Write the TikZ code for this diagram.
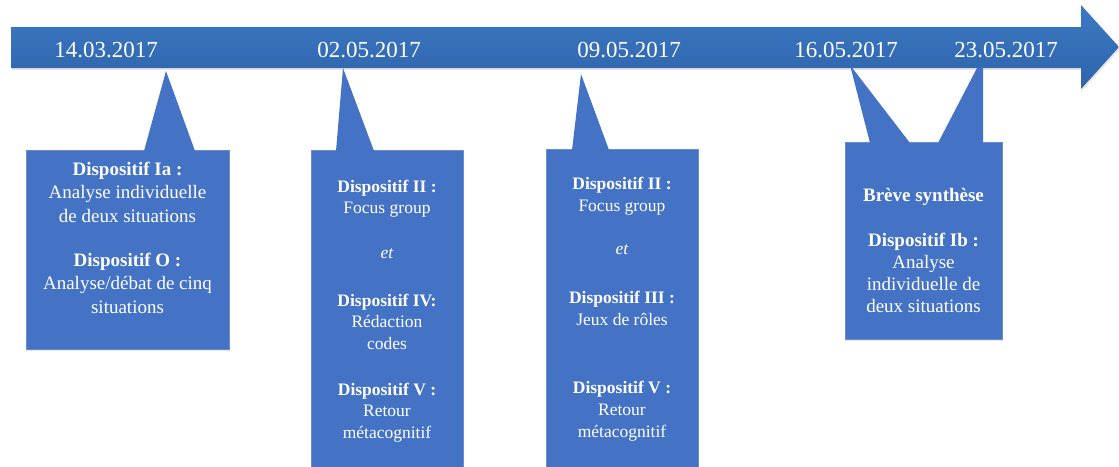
\documentclass[tikz,border=0pt]{standalone}
\usepackage{fontspec}
\setmainfont{Liberation Serif}
\usetikzlibrary{shadows}
\definecolor{boxblue}{HTML}{4472C4}
\definecolor{arrowtop}{HTML}{3C79C4}
\definecolor{arrowbot}{HTML}{2E64AA}
\begin{document}
\begin{tikzpicture}[x=1pt,y=-1pt,
    date/.style={text=white,font=\fontsize{23}{27}\selectfont,anchor=base,inner sep=0pt},
    callout/.style={fill=boxblue,draw=boxblue!80!white,line width=0.6pt,anchor=north west,
      drop shadow={shadow xshift=1pt,shadow yshift=-2pt,opacity=0.2}},
    tail/.style={fill=boxblue},
    info/.style={text=white,align=center,anchor=base,inner sep=0pt}]
  \useasboundingbox (0,0) rectangle (1119,466);
  % time line
  \shade[top color=arrowtop,bottom color=arrowbot,
    drop shadow={shadow xshift=1pt,shadow yshift=-2pt,opacity=0.2}]
    (11,27) -- (1081,27) -- (1081,5) -- (1119,47) -- (1081,89) -- (1081,68) -- (11,68) -- cycle;
  \draw
    (106,57) node[date] (d1){14.03.2017}
    (369,57) node[date] (d2){02.05.2017}
    (629,57) node[date] (d3){09.05.2017}
    (846,57) node[date] (d4){16.05.2017}
    (1006,57) node[date] (d5){23.05.2017};
  % boxes
  \node[callout,minimum width=203pt,minimum height=199pt] (b1) at (26,150) {};
  \node[callout,minimum width=152pt,minimum height=330pt] (b2) at (311,150) {};
  \node[callout,minimum width=152pt,minimum height=330pt] (b3) at (546,149) {};
  \node[callout,minimum width=157pt,minimum height=197pt] (b4) at (845,142) {};
  % tails
  \coordinate (a1) at (166,71);
  \coordinate (a2) at (343,68);
  \coordinate (a3) at (581,74);
  \coordinate (a4) at (850,65);
  \coordinate (a5) at (980,68);
  \begin{scope}[tail]
    \fill (a1) -- (195,151) -- (144,151) -- cycle;
    \fill (a2) -- (374,151) -- (336,151) -- cycle;
    \fill (a3) -- (609,150) -- (572,150) -- cycle;
    \fill (a4) -- (910,143) -- (870,143) -- cycle;
    \fill (977,68) -- (983,68) -- (983,143) -- (938,143) -- cycle;
  \end{scope}
  % texts (base = last line)
  \node[info,font=\fontsize{19}{23.5}\selectfont] (t1) at (127.5,313)
    {\textbf{Dispositif Ia :}\\ Analyse individuelle\\ de deux situations\\[20.5pt]
     \textbf{Dispositif O :}\\ Analyse/débat de cinq\\ situations};
  \node[info,font=\fontsize{17.5}{21.5}\selectfont] (t2) at (387,438)
    {\textbf{Dispositif II :}\\ Focus group\\[23.5pt] \textit{et}\\[26pt]
     \textbf{Dispositif IV:}\\ Rédaction\\ codes\\[24.5pt]
     \textbf{Dispositif V :}\\ Retour\\ métacognitif};
  \node[info,font=\fontsize{17.5}{22}\selectfont] (t3) at (622,437)
    {\textbf{Dispositif II :}\\ Focus group\\[21pt] \textit{et}\\[27pt]
     \textbf{Dispositif III :}\\ Jeux de rôles\\[46pt]
     \textbf{Dispositif V :}\\ Retour\\ métacognitif};
  \node[info,font=\fontsize{19}{22}\selectfont] (t4) at (923.5,312)
    {\textbf{Brève synthèse}\\[23pt] \textbf{Dispositif Ib :}\\ Analyse\\
     individuelle de\\ deux situations};
\end{tikzpicture}
\end{document}
